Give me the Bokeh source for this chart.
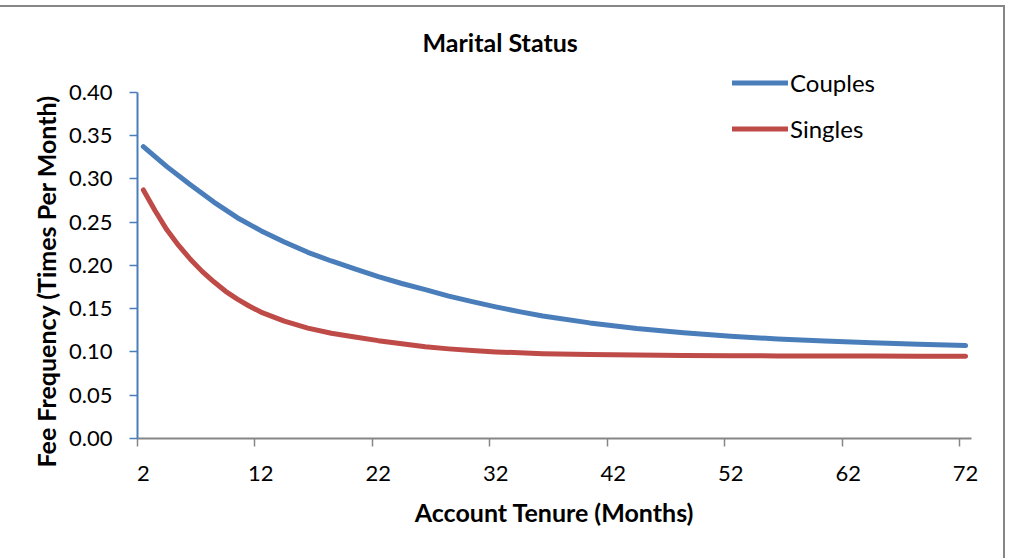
from bokeh.plotting import figure
from bokeh.models import (LinearAxis, FixedTicker, Range1d, Legend, LegendItem,
                          NumeralTickFormatter, CustomLabelingPolicy, Title)
from bokeh.embed import file_html
from bokeh.resources import INLINE

# Fee frequency by account tenure (months)
months_c = [2, 4, 6, 8, 10, 12, 14, 16, 18, 20, 22, 24, 26, 28, 30, 32, 34, 36,
            40, 44, 48, 52, 56, 60, 64, 68, 72]
couples = [0.337, 0.314, 0.293, 0.273, 0.255, 0.240, 0.227, 0.215, 0.205, 0.196,
           0.187, 0.179, 0.172, 0.1645, 0.158, 0.152, 0.1465, 0.1415,
           0.1335, 0.127, 0.122, 0.118, 0.115, 0.1125, 0.1105, 0.1088, 0.1073]

months_s = [2, 3, 4, 5, 6, 7, 8, 9, 10, 11, 12, 14, 16, 18, 20, 22, 24, 26, 28,
            30, 32, 36, 40, 44, 48, 52, 56, 60, 64, 68, 72]
singles = [0.287, 0.263, 0.241, 0.223, 0.207, 0.193, 0.181, 0.170, 0.161, 0.153,
           0.146, 0.1355, 0.1275, 0.1215, 0.1173, 0.113, 0.1095, 0.106, 0.1035,
           0.1015, 0.100, 0.098, 0.097, 0.0963, 0.0959, 0.0956, 0.0954, 0.0953,
           0.0952, 0.0951, 0.095]

x_label_months = [2, 12, 22, 32, 42, 52, 62, 72]
x_boundaries = [1.5, 11.5, 21.5, 31.5, 41.5, 51.5, 61.5, 71.5]
y_ticks = [0.0, 0.05, 0.10, 0.15, 0.20, 0.25, 0.30, 0.35, 0.40]

FONT = "Lato"
BLUE = "#4A7EBB"
RED = "#BE4B48"
GRAY = "#868686"

p = figure(width=1005, height=553, output_backend="svg", toolbar_location=None,
           x_range=Range1d(1.5, 72.5), y_range=Range1d(0, 0.44),
           x_axis_location=None,
           min_border_left=137, min_border_right=34,
           min_border_top=50, min_border_bottom=122)
p.styles = {"margin-top": "5px", "border-top": f"2px solid {GRAY}",
            "border-right": f"2px solid {GRAY}"}
p.grid.visible = False
p.outline_line_color = None

# chart title
p.title.text = "Marital Status"
p.title.text_font = FONT
p.title.text_font_style = "bold"
p.title.text_font_size = "25px"
p.title.text_color = "black"
p.title.align = "left"
p.title.offset = 285
p.title.standoff = 1

# y axis
ya = p.yaxis[0]
ya.bounds = (0, 0.40)
ya.ticker = FixedTicker(ticks=y_ticks)
ya.formatter = NumeralTickFormatter(format="0.00")
ya.axis_line_color = BLUE
ya.axis_line_width = 2
ya.major_tick_line_color = BLUE
ya.major_tick_line_width = 1.5
ya.major_tick_out = 8
ya.major_tick_in = 0
ya.minor_tick_line_color = None
ya.major_label_standoff = 17
ya.major_label_text_font = FONT
ya.major_label_text_font_size = "22px"
ya.major_label_text_color = "black"

# y axis title, set as a side title so it can be shifted along the axis
ylab = Title(text="Fee Frequency (Times Per Month)", align="left",
             offset=-29, standoff=12, text_font=FONT, text_font_style="bold",
             text_font_size="25px", text_color="black")
p.add_layout(ylab, "left")

# x axis: tick marks sit on month boundaries, labels on month centres
tick_axis = LinearAxis(ticker=FixedTicker(ticks=x_boundaries),
                       axis_line_color=GRAY, axis_line_width=2,
                       major_tick_line_color=GRAY, major_tick_line_width=1.5,
                       major_tick_out=8, major_tick_in=0,
                       minor_tick_line_color=None,
                       major_label_policy=CustomLabelingPolicy(code="return new Set()"),
                       major_label_text_font_size="1px",
                       major_label_standoff=0)
label_axis = LinearAxis(ticker=FixedTicker(ticks=x_label_months),
                        axis_line_color=None, major_tick_line_color=None,
                        major_tick_out=0, major_tick_in=0,
                        minor_tick_line_color=None,
                        major_label_standoff=15,
                        major_label_text_font=FONT,
                        major_label_text_font_size="22px",
                        major_label_text_color="black",
                        axis_label="Account Tenure (Months)",
                        axis_label_text_font=FONT,
                        axis_label_text_font_style="bold",
                        axis_label_text_font_size="25px",
                        axis_label_text_color="black",
                        axis_label_standoff=13)
p.add_layout(tick_axis, "below")
p.add_layout(label_axis, "below")

r_c = p.line(months_c, couples, line_width=5, color=BLUE,
             line_cap="round", line_join="round")
r_s = p.line(months_s, singles, line_width=5, color=RED,
             line_cap="round", line_join="round")

legend = Legend(items=[LegendItem(label="Couples", renderers=[r_c]),
                       LegendItem(label="Singles", renderers=[r_s])],
                location=(595, 295), orientation="vertical",
                glyph_width=56, glyph_height=29, label_height=29,
                spacing=17, padding=0, margin=0, label_standoff=2,
                border_line_color=None, background_fill_alpha=0,
                label_text_font=FONT, label_text_font_size="24px",
                label_text_color="black")
p.add_layout(legend)

open("out.html", "w").write(file_html(p, INLINE))
